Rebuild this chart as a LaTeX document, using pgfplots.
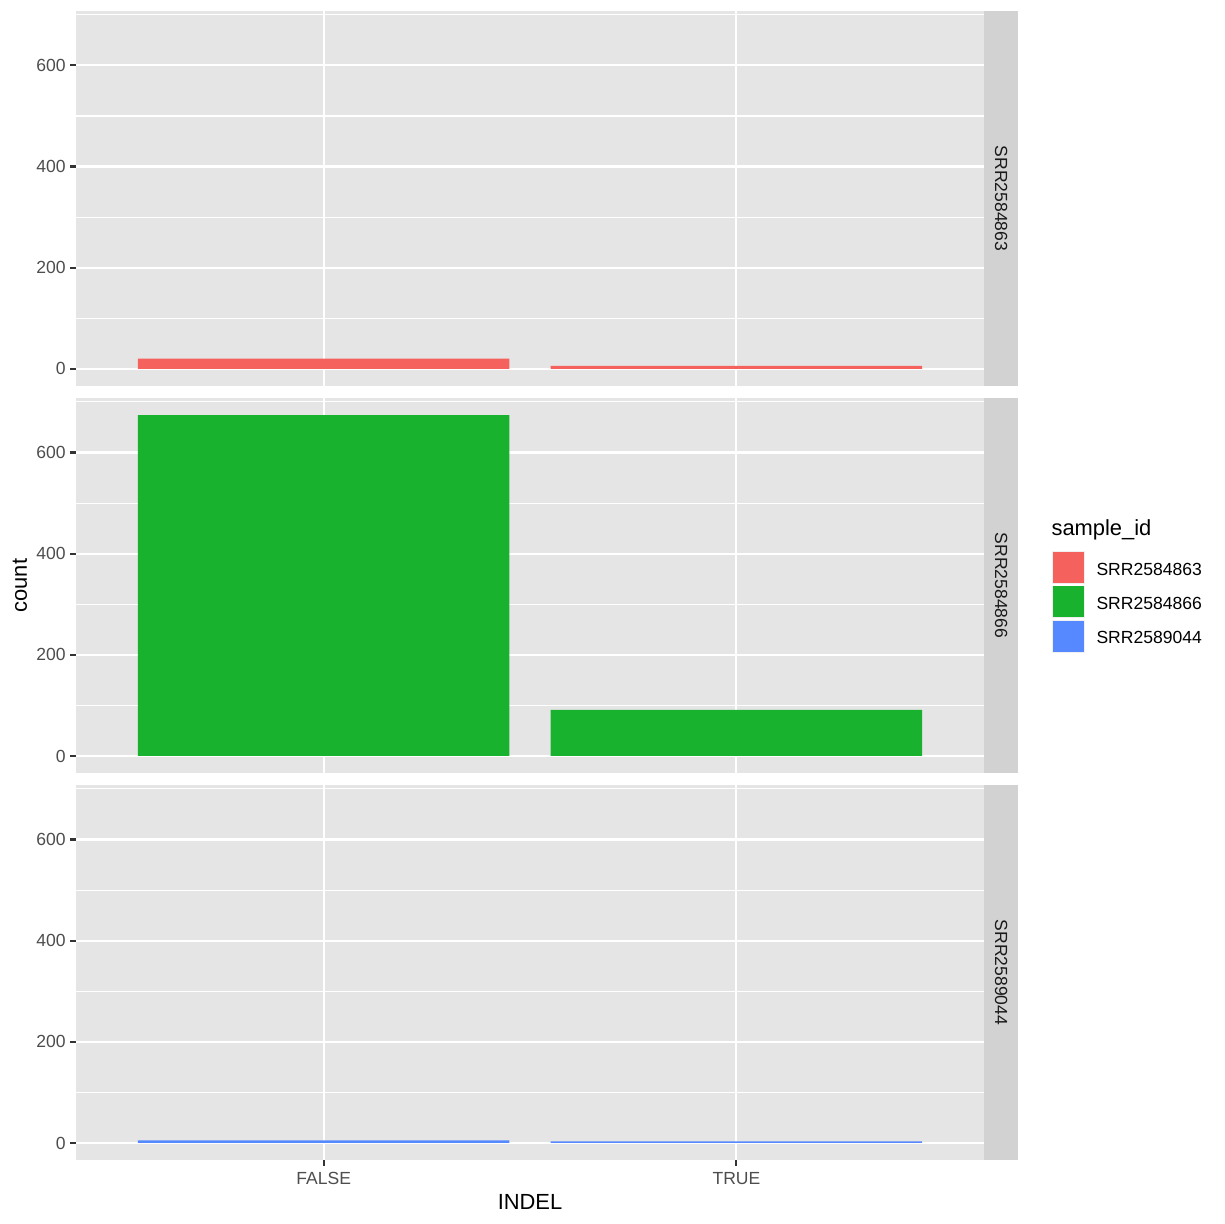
\documentclass[border=0pt]{standalone}
\usepackage{fontspec}
\setmainfont{Liberation Sans}
\usepackage{pgfplots}
\pgfplotsset{compat=1.18}
\definecolor{panelbg}{HTML}{E5E5E5}
\definecolor{stripbg}{HTML}{D2D2D2}
\definecolor{tickcol}{HTML}{333333}
\definecolor{labcol}{HTML}{4D4D4D}
\definecolor{striptext}{HTML}{1A1A1A}
\definecolor{keybg}{HTML}{F0F0F0}
\definecolor{c1}{HTML}{F5615C}
\definecolor{c2}{HTML}{19B22E}
\definecolor{c3}{HTML}{5689FF}
\newcommand{\ticksize}{\fontsize{7.25}{8.5}\selectfont}
\newcommand{\titlesize}{\fontsize{9.05}{11}\selectfont}
\pgfplotsset{
  facet/.style={
    scale only axis, width=373.9bp, height=154.4bp,
    xmin=0.4, xmax=2.6, ymin=-33.7, ymax=707.7,
    axis line style={draw=none},
    axis background/.style={fill=panelbg},
    xtick={1,2}, ytick={0,200,400,600}, minor ytick={100,300,500,700},
    grid=both,
    major grid style={white, line width=0.88bp},
    minor grid style={white, line width=0.44bp},
    tick align=outside, xtick pos=bottom, ytick pos=left,
    major tick length=2.3bp, minor tick length=0pt,
    tick style={tickcol, line width=0.88bp},
    yticklabel style={font=\ticksize, text=labcol, inner sep=0pt, anchor=east, xshift=-1.8bp},
    xticklabel style={font=\ticksize, text=labcol, inner sep=0pt, anchor=north, yshift=-2.6bp},
    xticklabels={FALSE,TRUE},
    /pgf/number format/assume math mode=true,
    ybar, bar width=0.9, bar shift=0pt,
    clip=false,
  },
}
\begin{document}
\begin{tikzpicture}
\path (0,0) rectangle (504bp,504bp);
% panel 1
\begin{axis}[facet, at={(31.3bp,345.1bp)}, anchor=south west, xticklabels={}, x tick style={draw=none}]
\addplot[fill=c1, draw=none] coordinates {(1,20) (2,6)};
\fill[stripbg] (rel axis cs:1,0) rectangle (rel axis cs:1.03744,1);
\node[rotate=-90, font=\ticksize, text=striptext] at (rel axis cs:1.01872,0.5) {SRR2584863};
\end{axis}
% panel 2
\begin{axis}[facet, at={(31.3bp,185.7bp)}, anchor=south west, xticklabels={}, x tick style={draw=none},
  legend style={at={(rel axis cs:1.0749,0.592)}, anchor=north west, draw=none, fill=none,
    inner sep=0pt, outer sep=0pt, row sep=0.8bp, font=\ticksize,
    nodes={inner sep=0pt},
    /tikz/every odd column/.append style={column sep=4.9bp}},
  legend cell align=left,
  legend image code/.code={\fill[keybg] (0bp,-5.3bp) rectangle (13.4bp,8.1bp); \fill[#1] (0.4bp,-4.9bp) rectangle (13.0bp,7.7bp);}]
\addplot[fill=c2, draw=none, forget plot] coordinates {(1,674) (2,91)};
\addlegendimage{fill=c1, draw=none}
\addlegendentry{SRR2584863}
\addlegendimage{fill=c2, draw=none}
\addlegendentry{SRR2584866}
\addlegendimage{fill=c3, draw=none}
\addlegendentry{SRR2589044}
\fill[stripbg] (rel axis cs:1,0) rectangle (rel axis cs:1.03744,1);
\node[rotate=-90, font=\ticksize, text=striptext] at (rel axis cs:1.01872,0.5) {SRR2584866};
\node[anchor=west, inner sep=0pt, font=\titlesize] at (rel axis cs:1.0738,0.648) {sample\_id};
\node[rotate=90, font=\titlesize] at ([xshift=-23.1bp]rel axis cs:0,0.5) {count};
\end{axis}
% panel 3
\begin{axis}[facet, at={(31.3bp,26.35bp)}, anchor=south west]
\addplot[fill=c3, draw=none] coordinates {(1,5) (2,3)};
\fill[stripbg] (rel axis cs:1,0) rectangle (rel axis cs:1.03744,1);
\node[rotate=-90, font=\ticksize, text=striptext] at (rel axis cs:1.01872,0.5) {SRR2589044};
\node[font=\titlesize] at ([yshift=-17.3bp]rel axis cs:0.5,0) {INDEL};
\end{axis}
\end{tikzpicture}
\end{document}
